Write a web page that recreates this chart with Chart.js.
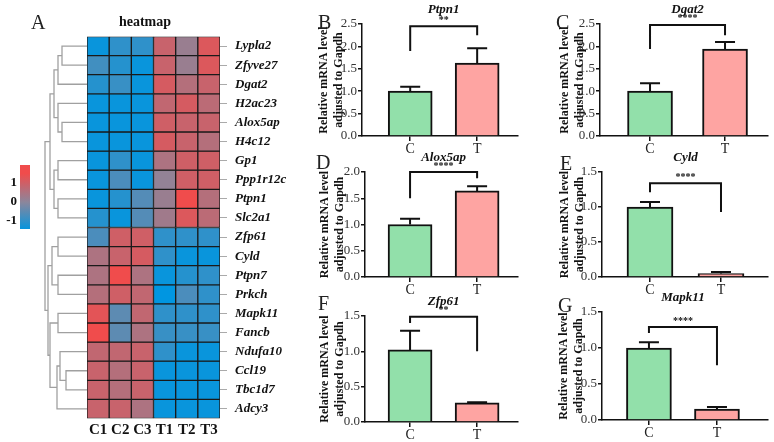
<!DOCTYPE html>
<html>
<head>
<meta charset="utf-8">
<script src="https://cdn.jsdelivr.net/npm/chart.js@4.4.1/dist/chart.umd.min.js"></script>
<style>
  body { margin: 0; background: #fff; width: 774px; height: 442px; overflow: hidden; position: relative; }
  canvas { position: absolute; }
  .lbl { position: absolute; font-family: "Liberation Serif", "DejaVu Serif", serif; font-size: 20px; line-height: 22px; color: #222; }
</style>
</head>
<body>
<script>
// heatmap: genes (rows) and samples (columns), z-score per sample column
const genes = ['Lypla2', 'Zfyve27', 'Dgat2', 'H2ac23', 'Alox5ap', 'H4c12', 'Gp1', 'Ppp1r12c', 'Ptpn1', 'Slc2a1',
  'Zfp61', 'Cyld', 'Ptpn7', 'Prkch', 'Mapk11', 'Fancb', 'Ndufa10', 'Ccl19', 'Tbc1d7', 'Adcy3'];
const samples = ['C1', 'C2', 'C3', 'T1', 'T2', 'T3'];
const zC1 = [-1.4, -0.8, -1.1, -1.4, -1.4, -1.4, -1.4, -1.4, -1.4, -1.1, -0.7, 0.5, 0.5, 0.6, 1.3, 1.5, 0.8, 0.9, 0.9, 0.9];
const zC2 = [-1.0, -1.1, -0.9, -1.4, -1.4, -1.4, -1.0, -0.7, -1.1, -1.4, 1.0, 0.9, 1.5, 1.0, -0.5, -0.5, 0.8, 0.6, 0.6, 0.9];
const zC3 = [-1.0, -1.4, -1.4, -1.4, -1.4, -1.4, -1.4, -1.4, -0.6, -0.6, 1.0, 1.1, 0.5, 0.8, 0.8, 0.5, 0.9, 0.9, 0.9, 0.5];
const zT1 = [0.9, 0.9, 1.1, 0.8, 1.0, 1.1, 0.5, 0.1, 0.2, 0.3, -1.0, -1.0, -1.4, -1.5, -1.0, -0.9, -1.0, -1.4, -1.4, -1.4];
const zT2 = [0.2, 0.2, 0.6, 1.1, 0.9, 0.9, 1.0, 1.0, 1.5, 1.2, -1.0, -1.4, -1.1, -0.7, -1.0, -0.9, -1.4, -1.4, -1.4, -1.4];
const zT3 = [1.2, 1.2, 0.9, 0.7, 0.9, 0.6, 1.0, 1.0, 0.6, 0.7, -1.0, -1.4, -1.0, -1.0, -1.0, -0.9, -1.4, -1.4, -1.4, -1.4];
const zCols = [zC1, zC2, zC3, zT1, zT2, zT3];

// row dendrogram: [childA, childB, height]; leaves 0..19, merged nodes numbered from 20
const merges = [
  [0, 1, 25], [20, 2, 29], [4, 5, 25], [3, 22, 29], [21, 23, 33],
  [6, 7, 29], [8, 9, 29], [25, 26, 33], [24, 27, 37],
  [10, 11, 29], [12, 13, 29], [29, 30, 35], [14, 15, 29],
  [17, 18, 21], [16, 33, 27], [34, 19, 30], [32, 35, 37], [31, 36, 39], [28, 37, 42]
];

// colour key
const legendTicks = [-1, 0, 1];
const legendMin = -1.42, legendMax = 1.95;

// qPCR panels
const groups = ['C', 'T'];
const panelGenes = ['Ptpn1', 'Dgat2', 'Alox5ap', 'Cyld', 'Zfp61', 'Mapk11'];
const meanC = [1.0, 1.0, 1.0, 1.0, 1.02, 1.0];
const meanT = [1.63, 1.94, 1.64, 0.05, 0.27, 0.15];
const errC = [0.10, 0.18, 0.11, 0.07, 0.27, 0.08];
const errT = [0.33, 0.16, 0.09, 0.02, 0.01, 0.03];
const yMax = [2.5, 2.5, 2.0, 1.5, 1.5, 1.5];
const stars = ['**', '****', '****', '****', '**', '****'];
const bracketTop = [2.45, 2.48, 2.0, 1.34, 1.49, 1.29];
const bracketLegC = [1.9, 1.94, 1.5, 1.21, 1.4, 1.21];
const bracketLegT = [2.25, 2.25, 1.88, 0.93, 1.0, 0.76];

// panel placement (pixels)
const panelBox = [
  { tl: 324, ax: 362, x1: 518, y0: 24, y1: 136, xMin: -0.72, xMax: 1.61, bw: 44 },
  { tl: 565, ax: 600, x1: 768, y0: 24, y1: 136, xMin: -0.667, xMax: 1.573, bw: 45 },
  { tl: 325, ax: 365, x1: 518, y0: 172, y1: 277, xMin: -0.672, xMax: 1.61, bw: 44 },
  { tl: 565, ax: 602, x1: 768, y0: 172, y1: 277, xMin: -0.676, xMax: 1.662, bw: 46 },
  { tl: 325, ax: 365, x1: 518, y0: 316, y1: 422, xMin: -0.672, xMax: 1.61, bw: 44 },
  { tl: 564, ax: 602, x1: 768, y0: 312, y1: 420, xMin: -0.69, xMax: 1.75, bw: 45 }
];
const letterPos = [['A', 38, 22], ['B', 325, 22], ['C', 563, 22], ['D', 323, 162], ['E', 567, 163], ['F', 325, 303], ['G', 565, 305]];

const serif = '"Liberation Serif", "DejaVu Serif", serif';
Chart.defaults.font.family = serif;
Chart.defaults.color = '#222';
Chart.defaults.animation = false;
Chart.defaults.responsive = false;
Chart.defaults.plugins.legend.display = false;
Chart.defaults.plugins.tooltip.enabled = false;

function addCanvas(left, top, w, h) {
  const c = document.createElement('canvas');
  c.width = w; c.height = h;
  c.style.left = left + 'px'; c.style.top = top + 'px';
  document.body.appendChild(c);
  return c;
}

// blue -> grey -> red
function colorFor(v) {
  const lo = [0, 150, 225], mid = [140, 134, 155], hi = [240, 76, 76];
  const t = Math.max(-1, Math.min(1, v / 1.5));
  const end = t < 0 ? lo : hi;
  const k = Math.abs(t);
  return 'rgb(' + mid.map((m, j) => Math.round(m + (end[j] - m) * k)).join(',') + ')';
}

// ---- dendrogram ----
const nodeY = genes.map((g, i) => i);
const nodeH = genes.map(() => 0);
const dendroSets = [];
merges.forEach(([a, b, h]) => {
  dendroSets.push({
    data: [{ x: nodeH[a], y: nodeY[a] }, { x: h, y: nodeY[a] }, { x: h, y: nodeY[b] }, { x: nodeH[b], y: nodeY[b] }],
    showLine: true, borderColor: '#a0a0a0', borderWidth: 1.3, pointRadius: 0
  });
  nodeY.push((nodeY[a] + nodeY[b]) / 2);
  nodeH.push(h);
});
new Chart(addCanvas(0, 0, 90, 442), {
  type: 'scatter',
  data: { datasets: dendroSets },
  options: {
    layout: { padding: { left: 18, right: 3, top: 36.5, bottom: 23.5 } },
    scales: {
      x: { type: 'linear', display: false, min: 0, max: 69, reverse: true },
      y: { type: 'linear', display: false, min: -0.5, max: 19.5, reverse: true }
    }
  }
});

// ---- heatmap ----
const heatTitle = {
  id: 'heatTitle',
  afterDraw(chart) {
    const ctx = chart.ctx;
    ctx.save();
    ctx.font = 'bold 14px ' + serif;
    ctx.fillStyle = '#111';
    ctx.textAlign = 'center';
    ctx.textBaseline = 'middle';
    ctx.fillText('heatmap', 145, 22);
    ctx.restore();
  }
};
new Chart(addCanvas(0, 0, 300, 442), {
  type: 'bar',
  data: {
    labels: samples,
    datasets: genes.map((g, r) => ({
      label: g,
      data: samples.map(() => 1),
      backgroundColor: zCols.map(col => colorFor(col[r])),
      borderColor: '#1a1a1a',
      borderWidth: 1,
      borderSkipped: false,
      barPercentage: 1,
      categoryPercentage: 1
    }))
  },
  options: {
    layout: { padding: { left: 87, top: 36.5, right: 0, bottom: 0 } },
    scales: {
      x: {
        stacked: true,
        grid: { display: false, drawTicks: false },
        border: { display: false },
        ticks: { font: { size: 15, weight: 'bold' }, color: '#111', padding: 3, maxRotation: 0, minRotation: 0, autoSkip: false },
        afterFit: s => { s.height = 23.5; }
      },
      y: { stacked: true, display: false, min: 0, max: 20, reverse: true },
      y2: {
        type: 'category',
        labels: genes,
        position: 'right',
        offset: true,
        grid: { drawOnChartArea: false, drawTicks: true, tickLength: 7, color: '#aaa' },
        border: { display: false },
        ticks: { font: { size: 13, weight: 'bold', style: 'italic' }, color: '#111', padding: 8, autoSkip: false },
        afterFit: s => { s.width = 80; }
      }
    }
  },
  plugins: [heatTitle]
});

// ---- colour key ----
new Chart(addCanvas(0, 150, 36, 90), {
  type: 'bar',
  data: {
    labels: [''],
    datasets: [{
      data: [[legendMin, legendMax]],
      backgroundColor: (c) => {
        const a = c.chart.chartArea;
        if (!a) return '#888';
        const g = c.chart.ctx.createLinearGradient(0, a.bottom, 0, a.top);
        for (let v = -1.5; v <= 1.51; v += 0.25) {
          const f = (v - legendMin) / (legendMax - legendMin);
          if (f >= 0 && f <= 1) g.addColorStop(f, colorFor(v));
        }
        g.addColorStop(0, colorFor(legendMin));
        g.addColorStop(1, colorFor(legendMax));
        return g;
      },
      borderWidth: 0,
      barPercentage: 1,
      categoryPercentage: 1
    }]
  },
  options: {
    layout: { padding: { top: 15, bottom: 11, right: 6 } },
    scales: {
      x: { display: false },
      y: {
        min: legendMin, max: legendMax,
        afterBuildTicks: s => { s.ticks = legendTicks.map(v => ({ value: v })); },
        grid: { display: false, drawTicks: false },
        border: { display: false },
        ticks: { font: { size: 13, weight: 'bold' }, color: '#111', padding: 3 },
        afterFit: s => { s.width = 20; }
      }
    }
  }
});

// ---- bar panels ----
panelGenes.forEach((gene, i) => {
  const box = panelBox[i];
  const left = box.tl - 8;
  const top = box.y0 - 30;
  const w = box.x1 - left + 3;
  const h = box.y1 - box.y0 + 30 + 22;

  const annot = {
    id: 'annot' + i,
    afterDatasetsDraw(chart) {
      const ctx = chart.ctx, x = chart.scales.x, y = chart.scales.y;
      const meta = chart.getDatasetMeta(0);
      const means = [meanC[i], meanT[i]], errs = [errC[i], errT[i]];
      ctx.save();
      ctx.strokeStyle = '#111';
      ctx.lineWidth = 2;
      // error bars (upper)
      meta.data.forEach((bar, j) => {
        const yt = y.getPixelForValue(means[j] + errs[j]);
        ctx.beginPath();
        ctx.moveTo(bar.x, bar.y);
        ctx.lineTo(bar.x, yt);
        ctx.moveTo(bar.x - 10, yt);
        ctx.lineTo(bar.x + 10, yt);
        ctx.stroke();
      });
      // significance bracket
      const xc = x.getPixelForValue(0), xt = x.getPixelForValue(1);
      const yb = y.getPixelForValue(bracketTop[i]);
      ctx.beginPath();
      ctx.moveTo(xc, y.getPixelForValue(bracketLegC[i]));
      ctx.lineTo(xc, yb);
      ctx.lineTo(xt, yb);
      ctx.lineTo(xt, y.getPixelForValue(bracketLegT[i]));
      ctx.stroke();
      ctx.fillStyle = '#111';
      ctx.textAlign = 'center';
      ctx.textBaseline = 'middle';
      ctx.font = 'bold 10px ' + serif;
      ctx.fillText(stars[i], (xc + xt) / 2, yb - 6);
      ctx.font = 'italic bold 13px ' + serif;
      ctx.fillText(gene, (xc + xt) / 2, chart.chartArea.top - 14);
      ctx.restore();
    }
  };

  new Chart(addCanvas(left, top, w, h), {
    type: 'bar',
    data: {
      datasets: [{
        data: [{ x: 0, y: meanC[i] }, { x: 1, y: meanT[i] }],
        backgroundColor: ['#92e0aa', '#fea4a2'],
        borderColor: '#111',
        borderWidth: 2,
        borderSkipped: 'start',
        barThickness: box.bw
      }]
    },
    options: {
      layout: { padding: { top: 30, right: 3, left: 0, bottom: 0 } },
      scales: {
        x: {
          type: 'linear',
          offset: false,
          min: box.xMin, max: box.xMax,
          afterBuildTicks: s => { s.ticks = groups.map((g, k) => ({ value: k })); },
          grid: { offset: false, drawOnChartArea: false, drawTicks: true, tickLength: 5, color: '#111', lineWidth: 1.5 },
          border: { color: '#111', width: 1.5 },
          ticks: { callback: v => groups[v], font: { size: 14 }, color: '#222', padding: 0 },
          afterFit: s => { s.height = 22; }
        },
        y: {
          min: 0, max: yMax[i],
          ticks: { stepSize: 0.5, callback: v => v.toFixed(1), font: { size: 13 }, color: '#333', padding: 1 },
          grid: { drawOnChartArea: false, drawTicks: true, tickLength: 4, color: '#111', lineWidth: 1.5 },
          border: { color: '#111', width: 1.5 },
          title: {
            display: true,
            text: ['Relative mRNA level', 'adjusted to Gapdh'],
            font: { size: 12, weight: 'bold', lineHeight: 1.3 },
            color: '#111',
            padding: 0
          },
          afterFit: s => { s.width = box.ax - left; }
        }
      }
    },
    plugins: [annot]
  });
});

// panel letters
letterPos.forEach(([t, cx, cy]) => {
  const d = document.createElement('div');
  d.className = 'lbl';
  d.textContent = t;
  d.style.left = (cx - 7) + 'px';
  d.style.top = (cy - 11) + 'px';
  document.body.appendChild(d);
});
</script>
</body>
</html>
